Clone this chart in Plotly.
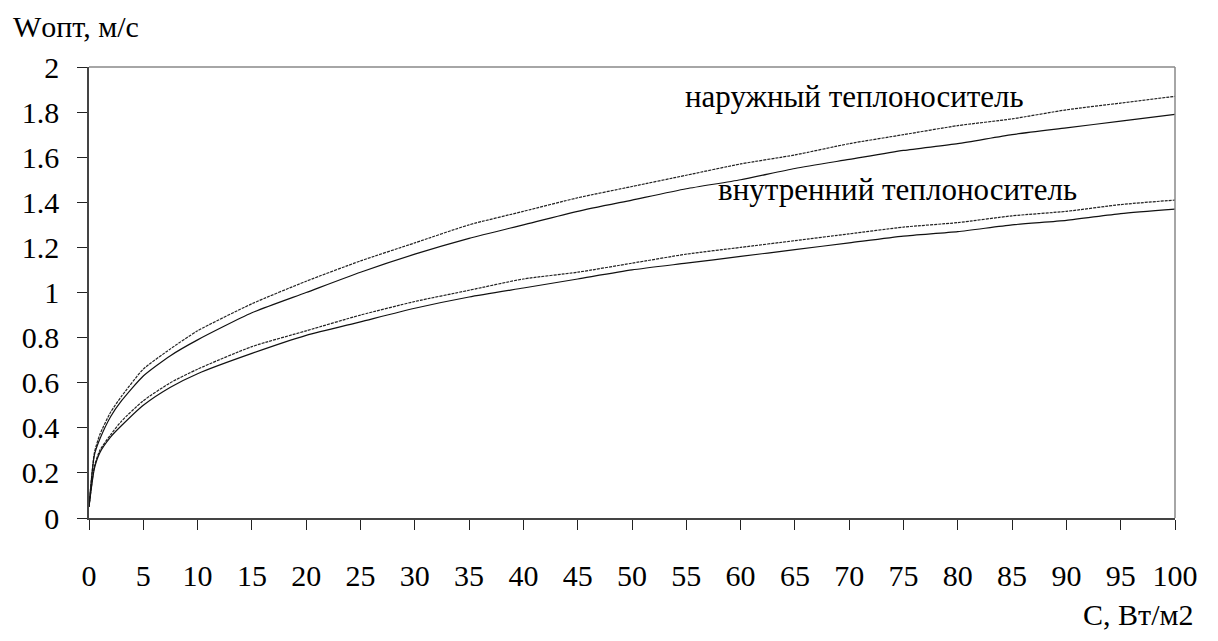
import plotly.graph_objects as go

x = [0, 0.5, 1, 2, 3, 5, 7.5, 10, 15, 20, 25, 30, 35, 40, 45, 50, 55, 60, 65, 70, 75, 80, 85, 90, 95, 100]
outer_upper = [0.05, 0.29, 0.37, 0.47, 0.54, 0.66, 0.75, 0.83, 0.95, 1.05, 1.14, 1.22, 1.30, 1.36, 1.42, 1.47, 1.52, 1.57, 1.61, 1.66, 1.70, 1.74, 1.77, 1.81, 1.84, 1.87]
outer_lower = [0.05, 0.28, 0.35, 0.45, 0.52, 0.63, 0.72, 0.79, 0.91, 1.00, 1.09, 1.17, 1.24, 1.30, 1.36, 1.41, 1.46, 1.50, 1.55, 1.59, 1.63, 1.66, 1.70, 1.73, 1.76, 1.79]
inner_upper = [0.05, 0.23, 0.30, 0.37, 0.43, 0.52, 0.60, 0.66, 0.76, 0.83, 0.90, 0.96, 1.01, 1.06, 1.09, 1.13, 1.17, 1.20, 1.23, 1.26, 1.29, 1.31, 1.34, 1.36, 1.39, 1.41]
inner_lower = [0.05, 0.22, 0.29, 0.36, 0.41, 0.50, 0.58, 0.64, 0.73, 0.81, 0.87, 0.93, 0.98, 1.02, 1.06, 1.10, 1.13, 1.16, 1.19, 1.22, 1.25, 1.27, 1.30, 1.32, 1.35, 1.37]

x_ticks = list(range(0, 101, 5))
y_ticks = [0, 0.2, 0.4, 0.6, 0.8, 1, 1.2, 1.4, 1.6, 1.8, 2]
y_tick_text = ["0", "0.2", "0.4", "0.6", "0.8", "1", "1.2", "1.4", "1.6", "1.8", "2"]

label_outer = "наружный теплоноситель"
label_inner = "внутренний теплоноситель"
y_title = "Wопт, м/с"
x_title = "C, Вт/м2"

FONT = "Times New Roman"

fig = go.Figure()
for ys, dash, col in [(outer_upper, "3px,1px", "#222"), (outer_lower, "solid", "#111"),
                      (inner_upper, "3px,1px", "#222"), (inner_lower, "solid", "#111")]:
    fig.add_trace(go.Scatter(x=x, y=ys, mode="lines",
                             line=dict(color=col, width=1.2, dash=dash, shape="spline", smoothing=0.6),
                             showlegend=False, hoverinfo="skip"))

fig.update_layout(
    width=1202, height=625,
    margin=dict(l=81, r=22, t=59, b=115),
    paper_bgcolor="white", plot_bgcolor="white",
    font=dict(family=FONT, size=30, color="black"),
    xaxis=dict(range=[0, 100], tickvals=x_ticks, ticks="outside", ticklen=10, tickcolor="#222",
               showgrid=False, zeroline=False, showline=True, linecolor="#444", linewidth=1.5,
               ticklabelstandoff=20, ticklabeloverflow="allow", tickfont=dict(family=FONT, size=30)),
    yaxis=dict(range=[0, 2], tickvals=y_ticks, ticktext=y_tick_text, ticks="outside", ticklen=10, tickcolor="#222",
               showgrid=False, zeroline=False, showline=True, linecolor="#444", linewidth=1.5,
               ticklabelstandoff=12, tickfont=dict(family=FONT, size=30)),
    shapes=[
        dict(type="line", xref="paper", yref="paper", x0=0, x1=1, y0=1, y1=1, line=dict(color="#888", width=1.5)),
        dict(type="line", xref="paper", yref="paper", x0=1, x1=1, y0=0, y1=1, line=dict(color="#888", width=1.5)),
    ],
    annotations=[
        dict(text=y_title, xref="paper", yref="paper", x=-0.072, y=1.1308, xanchor="left", yanchor="top",
             showarrow=False, font=dict(family=FONT, size=30)),
        dict(text=x_title, xref="paper", yref="paper", x=1.018, y=-0.255, xanchor="right", yanchor="bottom",
             showarrow=False, font=dict(family=FONT, size=30)),
        dict(text=label_outer, x=54.7, y=1.871, xanchor="left", yanchor="middle", showarrow=False,
             font=dict(family=FONT, size=31)),
        dict(text=label_inner, x=57.7, y=1.459, xanchor="left", yanchor="middle", showarrow=False,
             font=dict(family=FONT, size=31)),
    ],
)

fig.write_html("out.html")
